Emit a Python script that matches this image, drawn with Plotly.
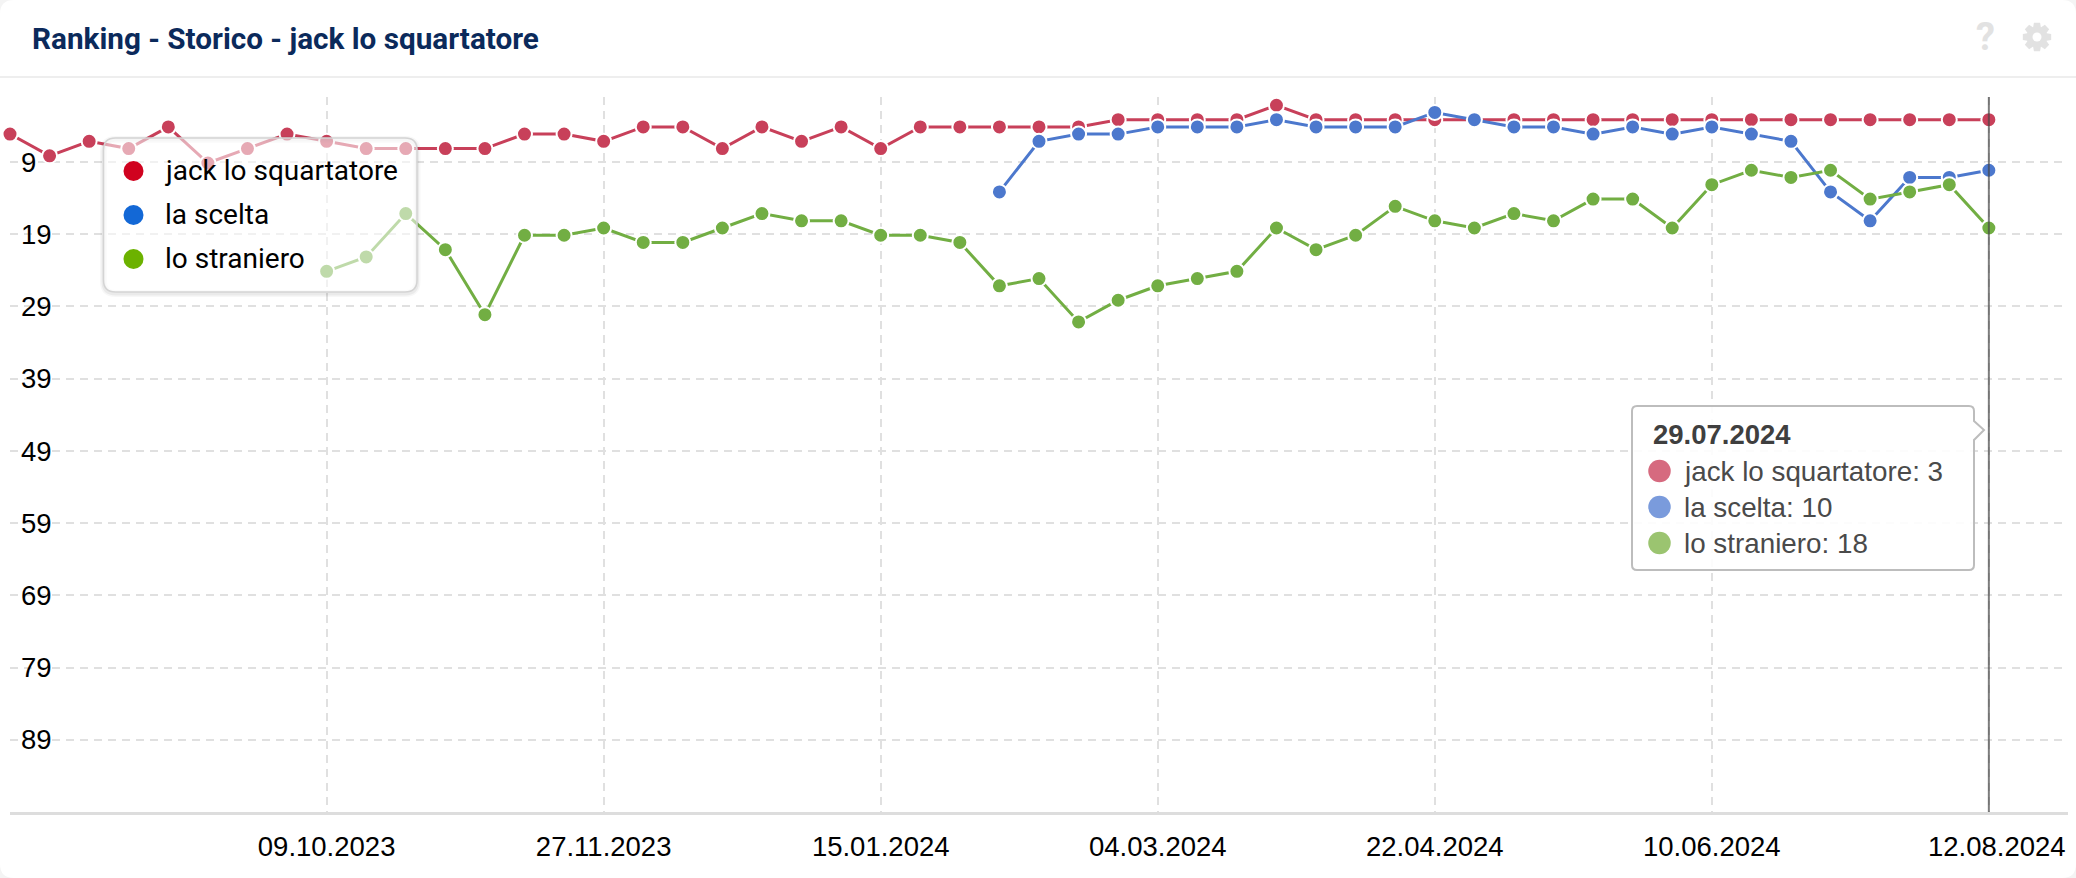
import math
import plotly.graph_objects as go

W, H = 2076, 878
ML, MR, MT, MB = 10, 8, 97, 66

dates = ["2023-08-14","2023-08-21","2023-08-28","2023-09-04","2023-09-11","2023-09-18","2023-09-25","2023-10-02",
         "2023-10-09","2023-10-16","2023-10-23","2023-10-30","2023-11-06","2023-11-13","2023-11-20","2023-11-27",
         "2023-12-04","2023-12-11","2023-12-18","2023-12-25","2024-01-01","2024-01-08","2024-01-15","2024-01-22",
         "2024-01-29","2024-02-05","2024-02-12","2024-02-19","2024-02-26","2024-03-04","2024-03-11","2024-03-18",
         "2024-03-25","2024-04-01","2024-04-08","2024-04-15","2024-04-22","2024-04-29","2024-05-06","2024-05-13",
         "2024-05-20","2024-05-27","2024-06-03","2024-06-10","2024-06-17","2024-06-24","2024-07-01","2024-07-08",
         "2024-07-15","2024-07-22","2024-07-29"]
jack = [5,8,6,7,4,9,7,5,6,7,7,7,7,5,5,6,4,4,7,4,6,4,7,4,4,4,4,4,3,3,3,3,1,3,3,3,3,3,3,3,3,3,3,3,3,3,3,3,3,3,3]
scelta = [None]*25 + [13,6,5,5,4,4,4,3,4,4,4,2,3,4,4,5,4,5,4,5,6,13,17,11,11,10]
straniero = [None]*8 + [24,22,16,21,30,19,19,18,20,20,18,16,17,17,19,19,20,26,25,31,28,26,25,24,18,21,19,15,
                        17,18,16,17,14,14,18,12,10,11,10,14,13,12,18]
series_names = ["jack lo squartatore", "la scelta", "lo straniero"]
line_colors = ["#c8405a", "#4c78cd", "#72ae43"]
legend_colors = ["#d0021f", "#1368d6", "#6cb200"]
tip_colors = ["#d66a7f", "#7a9bdc", "#9bc470"]
tip_values = [3, 10, 18]
tip_date = "29.07.2024"
ytick_vals = [9,19,29,39,49,59,69,79,89]
xtick_vals = ["2023-10-09","2023-11-27","2024-01-15","2024-03-04","2024-04-22","2024-06-10","2024-07-29","2024-08-12"]
xtick_text = ["09.10.2023","27.11.2023","15.01.2024","04.03.2024","22.04.2024","10.06.2024","","" ]
last_label = "12.08.2024"
title = "Ranking - Storico - jack lo squartatore"


def px(x):
    return (x - ML) / (W - ML - MR)


def py(y):
    return 1 - (y - MT) / (H - MT - MB)


def rrect(x0, y0, x1, y1, r):
    X = lambda v: f"{px(v):.6f}"
    Y = lambda v: f"{py(v):.6f}"
    return (f"M{X(x0+r)},{Y(y0)} L{X(x1-r)},{Y(y0)} Q{X(x1)},{Y(y0)} {X(x1)},{Y(y0+r)} "
            f"L{X(x1)},{Y(y1-r)} Q{X(x1)},{Y(y1)} {X(x1-r)},{Y(y1)} L{X(x0+r)},{Y(y1)} "
            f"Q{X(x0)},{Y(y1)} {X(x0)},{Y(y1-r)} L{X(x0)},{Y(y0+r)} Q{X(x0)},{Y(y0)} {X(x0+r)},{Y(y0)} Z")


def tip_path(x0, y0, x1, y1, r, ax0, ay, ay1, tipx):
    X = lambda v: f"{px(v):.6f}"
    Y = lambda v: f"{py(v):.6f}"
    return (f"M{X(x0+r)},{Y(y0)} L{X(x1-r)},{Y(y0)} Q{X(x1)},{Y(y0)} {X(x1)},{Y(y0+r)} "
            f"L{X(x1)},{Y(ax0)} L{X(tipx)},{Y(ay)} L{X(x1)},{Y(ay1)} "
            f"L{X(x1)},{Y(y1-r)} Q{X(x1)},{Y(y1)} {X(x1-r)},{Y(y1)} L{X(x0+r)},{Y(y1)} "
            f"Q{X(x0)},{Y(y1)} {X(x0)},{Y(y1-r)} L{X(x0)},{Y(y0+r)} Q{X(x0)},{Y(y0)} {X(x0+r)},{Y(y0)} Z")


def gear_path(cx, cy, r_out, r_in, teeth=8):
    pts = []
    step = 2 * math.pi / teeth
    for i in range(teeth):
        a = i * step - math.pi / 2
        for da, r in [(-0.30, r_in), (-0.17, r_out), (0.17, r_out), (0.30, r_in)]:
            pts.append((cx + r * math.cos(a + da * step * 1.6), cy + r * math.sin(a + da * step * 1.6)))
    return "M" + " L".join(f"{px(x):.6f},{py(y):.6f}" for x, y in pts) + " Z"


def dot(cx, cy, d, color):
    return dict(type="circle", xref="paper", yref="paper", layer="above",
                x0=px(cx - d/2), x1=px(cx + d/2), y0=py(cy + d/2), y1=py(cy - d/2),
                fillcolor=color, line=dict(width=0))


def text(x, y, s, size, color, family, xanchor="left", bold=False):
    return dict(xref="paper", yref="paper", x=px(x), y=py(y), text=f"<b>{s}</b>" if bold else s,
                showarrow=False, xanchor=xanchor, yanchor="middle", borderpad=0,
                font=dict(size=size, color=color, family=family))


fig = go.Figure()
for vals, name, col in zip([jack, scelta, straniero], series_names, line_colors):
    fig.add_trace(go.Scatter(x=dates, y=vals, name=name, mode="lines+markers", cliponaxis=False, yaxis="y2",
                             line=dict(color=col, width=3),
                             marker=dict(color=col, size=15, line=dict(color="white", width=2))))

shapes = [
    dict(type="path", xref="paper", yref="paper", layer="below", path=rrect(0, 0, W, H, 14),
         fillcolor="white", line=dict(width=0)),
    dict(type="line", xref="paper", yref="paper", layer="below", x0=px(0), x1=px(W), y0=py(77), y1=py(77),
         line=dict(color="#eeeeee", width=2)),
    dict(type="path", xref="paper", yref="paper", layer="below", path=gear_path(2037, 37, 14.5, 10.5),
         fillcolor="#e2e2e2", line=dict(width=0)),
    dot(2037, 37, 9, "white") | {"layer": "below"},
]
for v in ytick_vals:
    shapes.append(dict(type="rect", layer="between", xref="paper", yref="y",
                       x0=px(18), x1=px(40 if v < 10 else 56), y0=v - 0.5, y1=v + 0.5,
                       fillcolor="white", line=dict(width=0)))
shapes.append(dict(type="line", xref="x", yref="paper", layer="above", x0=dates[-1], x1=dates[-1], y0=0, y1=1,
                   line=dict(color="rgba(70,70,70,0.7)", width=2)))
for w, a in [(7, 0.03), (4, 0.05)]:
    shapes.append(dict(type="path", xref="paper", yref="paper", layer="above",
                       path=rrect(103.5, 139.5, 417, 293.5, 12),
                       fillcolor="rgba(0,0,0,0)", line=dict(color=f"rgba(0,0,0,{a})", width=w)))
shapes.append(dict(type="path", xref="paper", yref="paper", layer="above", path=rrect(103.5, 138, 417, 292, 12),
                   fillcolor="rgba(255,255,255,0.55)", line=dict(color="#d4d4d4", width=1.5)))
leg_y = [171, 215, 259]
for yy, c in zip(leg_y, legend_colors):
    shapes.append(dot(133.5, yy, 20, c))
shapes.append(dict(type="path", xref="paper", yref="paper", layer="above",
                   path=tip_path(1632, 406, 1974, 570, 5, 421, 430, 440, 1984),
                   fillcolor="rgba(255,255,255,0.88)", line=dict(color="#bdbdbd", width=2)))
tip_y = [471, 507, 543]
for yy, c in zip(tip_y, tip_colors):
    shapes.append(dot(1659.5, yy, 22.5, c))

annotations = [
    text(31, 39, title, 29.7, "#0b2a5b", "Roboto", bold=True),
    text(1985, 37, "?", 38, "#e2e2e2", "Roboto", xanchor="center", bold=True),
    text(2067, 846, last_label, 27.5, "#000000", "Liberation Sans", xanchor="right"),
    text(1652, 434, tip_date, 27.5, "#3f3f3f", "Liberation Sans", bold=True),
]
for yy, n in zip([170.5, 214.5, 258.5], series_names):
    annotations.append(text(164, yy, n, 28, "#000000", "Roboto"))
for yy, n, v in zip(tip_y, series_names, tip_values):
    annotations.append(text(1682.5, yy, f"{n}: {v}", 27.8, "#4a4a4a", "Liberation Sans"))

fig.update_layout(
    width=W, height=H, margin=dict(l=ML, r=MR, t=MT, b=MB, pad=0),
    paper_bgcolor="#f4f4f4", plot_bgcolor="rgba(0,0,0,0)", showlegend=False,
    font=dict(family="Liberation Sans", color="#000000", size=27.5),
    shapes=shapes, annotations=annotations, hovermode=False,
    xaxis=dict(type="date", range=["2023-08-14", "2024-08-12"], tickmode="array",
               tickvals=xtick_vals, ticktext=xtick_text, ticks="", showgrid=True,
               gridcolor="#e0e0e0", gridwidth=2, griddash="8px,6px", showline=True,
               linecolor="#dddddd", linewidth=2.5, zeroline=False, ticklabelstandoff=8,
               tickfont=dict(size=27.5, color="#000000", family="Liberation Sans")),
    yaxis=dict(range=[99, 0], tickmode="array", tickvals=ytick_vals, ticks="", showgrid=True,
               gridcolor="#e0e0e0", gridwidth=2, griddash="8px,6px", zeroline=False, showline=False,
               ticklabelposition="inside", ticklabelstandoff=8,
               tickfont=dict(size=27.5, color="#000000", family="Liberation Sans")),
    # same scale as the visible axis; the marks sit about 1px below the crisp gridlines in the reference
    yaxis2=dict(range=[98.86, -0.14], overlaying="y", visible=False),
)
fig.write_html("out.html", config={"displayModeBar": False},
               post_script="document.body.style.margin='0';document.documentElement.style.margin='0';")
